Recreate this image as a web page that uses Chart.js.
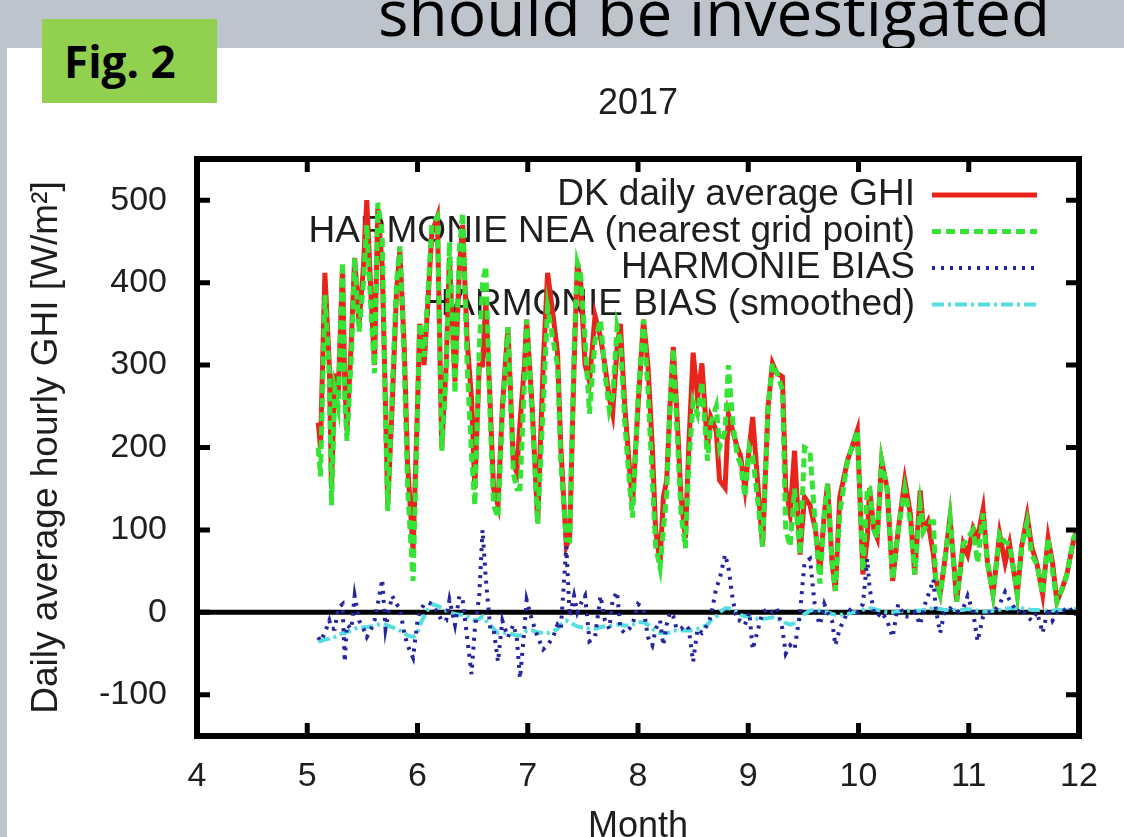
<!DOCTYPE html>
<html>
<head>
<meta charset="utf-8">
<script src="https://cdn.jsdelivr.net/npm/chart.js@4.4.1/dist/chart.umd.min.js"></script>
<style>
html,body{margin:0;padding:0;width:1124px;height:837px;overflow:hidden;background:#bec4cc;}
#headline{position:absolute;left:714px;top:-20px;transform:translateX(-50%);white-space:nowrap;font-family:"Open Sans",sans-serif;font-size:64px;line-height:1;color:#000;}
#panel{position:absolute;left:7px;top:48px;width:1117px;height:789px;background:#fff;}
#fig{position:absolute;left:42px;top:19px;width:175px;height:84px;background:#92d050;}
#figtext{position:absolute;left:22px;top:20px;font-family:"Open Sans",sans-serif;font-weight:700;font-size:44px;line-height:1;color:#000;white-space:nowrap;}
#c{position:absolute;left:0;top:0;}
</style>
</head>
<body>
<div id="headline">should be investigated</div>
<div id="panel"></div>
<div id="fig"><span id="figtext">Fig. 2</span></div>
<canvas id="c" width="1124" height="837"></canvas>
<script>
// ---------- data ----------
const chartTitle = '2017';
const xAxisTitle = 'Month';
const yAxisTitle = 'Daily average hourly GHI [W/m²]';
const seriesNames = ['DK daily average GHI', 'HARMONIE NEA (nearest grid point)', 'HARMONIE BIAS', 'HARMONIE BIAS (smoothed)'];
const xTickVals = [4, 5, 6, 7, 8, 9, 10, 11, 12];
const yTickVals = [-100, 0, 100, 200, 300, 400, 500];

const months = [5.10,5.12,5.16,5.20,5.22,5.25,5.28,5.32,5.34,5.36,5.40,5.43,5.47,5.51,5.54,5.58,5.61,5.64,5.68,5.71,5.73,5.77,5.81,5.84,5.88,5.91,5.96,6.00,6.02,6.06,6.10,6.13,6.18,6.22,6.26,6.29,6.34,6.38,6.41,6.45,6.49,6.52,6.56,6.59,6.62,6.66,6.69,6.73,6.77,6.82,6.87,6.90,6.93,6.97,6.99,7.04,7.09,7.14,7.18,7.23,7.27,7.30,7.35,7.38,7.42,7.45,7.48,7.52,7.56,7.61,7.66,7.70,7.74,7.77,7.81,7.84,7.88,7.92,7.95,8.00,8.05,8.09,8.13,8.16,8.20,8.23,8.26,8.29,8.32,8.35,8.39,8.43,8.46,8.50,8.54,8.58,8.63,8.66,8.71,8.74,8.79,8.82,8.86,8.90,8.93,8.97,9.01,9.04,9.09,9.13,9.18,9.22,9.26,9.31,9.34,9.38,9.42,9.47,9.51,9.56,9.61,9.65,9.69,9.72,9.76,9.79,9.83,9.90,9.94,9.99,10.01,10.04,10.08,10.10,10.14,10.17,10.21,10.26,10.31,10.36,10.42,10.47,10.51,10.56,10.59,10.63,10.68,10.70,10.74,10.78,10.83,10.87,10.89,10.95,10.99,11.04,11.08,11.13,11.17,11.22,11.28,11.33,11.37,11.44,11.48,11.53,11.57,11.62,11.67,11.72,11.76,11.80,11.85,11.89,11.95,11.98];

const dkGHI = [230,200,412,300,150,290,260,420,280,220,330,430,350,420,500,380,300,490,420,250,130,250,390,440,320,180,75,250,350,300,390,460,480,200,300,430,280,420,470,330,260,150,300,300,380,250,150,130,250,346,180,170,230,300,355,250,110,300,412,360,315,200,80,90,300,424,400,300,280,360,334,300,260,241,320,350,250,180,130,250,355,300,200,100,60,140,160,250,322,250,140,90,200,315,260,302,200,237,220,160,151,240,220,200,190,150,200,237,150,80,250,302,290,286,150,120,196,70,140,130,100,50,120,156,60,26,140,184,200,221,150,46,90,151,100,90,184,150,38,100,160,120,46,148,99,110,70,40,22,60,115,50,13,83,70,102,90,125,60,22,95,60,83,22,80,117,80,58,22,90,60,13,30,46,87,100];

const neaGHI = [200,165,385,290,130,270,250,425,260,208,310,430,340,400,470,360,290,497,460,230,123,270,400,444,300,150,38,240,351,310,400,470,480,196,290,449,265,440,485,300,190,130,320,400,420,230,130,115,240,346,168,150,150,280,355,240,107,250,370,330,300,180,88,87,320,424,410,330,241,330,355,290,245,260,347,330,230,160,115,260,355,270,160,80,54,100,144,250,320,230,120,78,180,255,240,280,184,230,250,200,220,300,230,190,180,140,200,190,130,80,250,302,290,270,100,80,150,70,200,196,100,35,120,156,60,26,120,184,200,221,150,50,151,151,100,90,184,150,40,100,150,110,46,130,99,110,110,40,22,60,115,50,13,83,90,100,60,120,60,22,95,85,83,22,80,110,70,58,22,90,50,13,30,46,90,95];

const biasGHI = [-30,-35,-25,-10,-20,-20,5,10,-60,-15,-20,20,-10,-20,-30,-20,-10,10,40,-20,-5,20,10,5,-25,-40,-55,-10,0,10,12,10,0,-10,-10,15,-15,20,15,-30,-75,-20,20,100,40,-20,-20,-60,-10,-30,-15,-30,-80,-20,15,-10,-30,-45,-40,-30,-15,-20,80,-5,20,0,10,20,-35,-30,20,-10,-20,15,25,-20,-25,-20,-15,10,5,-30,-40,-20,-10,-40,-15,0,-5,-20,-20,-15,-20,-60,-20,-25,-15,-5,30,40,70,55,15,-10,-10,-15,0,-45,-20,0,5,0,5,-20,-50,-40,-45,0,60,65,0,-15,10,0,-10,-40,-20,0,5,0,5,10,65,30,0,-5,0,-10,-30,10,-5,-5,0,-15,5,20,40,5,-25,0,5,0,0,5,20,0,-35,-5,0,0,10,25,15,0,5,-5,-10,0,-25,5,-10,0,5,0,5,-5];

const biasSmooth = [-35,-35,-33,-32,-30,-30,-28,-25,-25,-24,-22,-20,-18,-18,-18,-17,-16,-15,-14,-15,-16,-18,-20,-22,-25,-28,-30,-25,-15,-5,5,10,8,5,2,0,-2,-3,-3,-5,-8,-10,-8,-5,-10,-15,-20,-25,-25,-25,-27,-28,-28,-25,-22,-22,-24,-25,-25,-23,-20,-15,-10,-12,-15,-17,-18,-18,-20,-20,-18,-17,-17,-16,-15,-15,-16,-16,-15,-12,-12,-15,-20,-22,-25,-25,-25,-24,-22,-22,-22,-22,-22,-22,-20,-18,-15,-10,-5,0,5,5,3,0,-3,-5,-5,-7,-8,-8,-7,-6,-8,-10,-13,-15,-13,-8,-2,2,3,2,0,0,-2,-3,-3,-2,0,0,2,3,5,5,4,3,2,0,0,1,2,2,2,2,3,4,5,5,4,3,3,3,3,3,4,3,2,1,1,2,3,4,5,5,5,4,3,3,2,2,2,3,3,3,4,4];

// ---------- styling ----------
const FONT = '"Liberation Sans", Arial, sans-serif';
const TEXT = '#1e1e1e';
const pts = arr => months.map((m, i) => ({ x: m, y: arr[i] }));

const gnuplotDecor = {
  id: 'gnuplotDecor',
  beforeDatasetsDraw(chart) {
    const { ctx, chartArea: a, scales: { y } } = chart;
    ctx.save();
    const y0 = y.getPixelForValue(0);
    ctx.strokeStyle = '#000';
    ctx.lineWidth = 5;
    ctx.beginPath(); ctx.moveTo(a.left, y0); ctx.lineTo(a.right, y0); ctx.stroke();
    ctx.font = '37px ' + FONT;
    ctx.fillStyle = TEXT;
    ctx.textAlign = 'right';
    ctx.textBaseline = 'middle';
    chart.data.datasets.forEach((ds, i) => {
      const ry = a.top + 36 + i * 36.5;
      ctx.fillText(ds.label, a.right - 164, ry);
      ctx.save();
      ctx.strokeStyle = ds.borderColor;
      ctx.lineWidth = ds.borderWidth;
      ctx.setLineDash(ds.borderDash || []);
      ctx.beginPath(); ctx.moveTo(a.right - 147, ry); ctx.lineTo(a.right - 42, ry); ctx.stroke();
      ctx.restore();
    });
    ctx.restore();
  },
  afterDatasetsDraw(chart) {
    const { ctx, chartArea: a, scales: { x, y } } = chart;
    ctx.save();
    ctx.strokeStyle = '#000';
    ctx.lineWidth = 5;
    const tl = 13;
    ctx.beginPath();
    x.ticks.forEach(t => {
      const px = x.getPixelForValue(t.value);
      if (px <= a.left + 1 || px >= a.right - 1) return;
      ctx.moveTo(px, a.bottom); ctx.lineTo(px, a.bottom - tl);
      ctx.moveTo(px, a.top); ctx.lineTo(px, a.top + tl);
    });
    y.ticks.forEach(t => {
      const py = y.getPixelForValue(t.value);
      ctx.moveTo(a.left, py); ctx.lineTo(a.left + tl, py);
      ctx.moveTo(a.right, py); ctx.lineTo(a.right - tl, py);
    });
    ctx.stroke();
    ctx.lineWidth = 6;
    ctx.strokeRect(a.left, a.top, a.right - a.left, a.bottom - a.top);
    ctx.restore();
  },
  afterDraw(chart) {
    const { ctx, chartArea: a } = chart;
    ctx.save();
    ctx.font = '36px ' + FONT;
    ctx.fillStyle = TEXT;
    ctx.textAlign = 'center';
    ctx.textBaseline = 'middle';
    ctx.fillText(chartTitle, (a.left + a.right) / 2, 104);
    ctx.restore();
  }
};

new Chart(document.getElementById('c'), {
  type: 'line',
  data: {
    datasets: [
      { label: seriesNames[0], data: pts(dkGHI), borderColor: '#e8251c', borderWidth: 5, order: 4 },
      { label: seriesNames[1], data: pts(neaGHI), borderColor: '#36e436', borderWidth: 5, borderDash: [9, 5], order: 3 },
      { label: seriesNames[2], data: pts(biasGHI), borderColor: '#25259e', borderWidth: 4, borderDash: [3, 6], order: 1 },
      { label: seriesNames[3], data: pts(biasSmooth), borderColor: '#55dde0', borderWidth: 4, borderDash: [12, 4, 3, 4], order: 2 }
    ]
  },
  options: {
    responsive: false,
    animation: false,
    devicePixelRatio: 1,
    elements: { point: { radius: 0 }, line: { tension: 0, fill: false } },
    layout: { padding: { top: 159, right: 45, left: 0, bottom: 0 } },
    plugins: { legend: { display: false }, tooltip: { enabled: false }, title: { display: false } },
    scales: {
      x: {
        type: 'linear', min: 4, max: 12,
        afterFit: s => { s.height = 101; },
        afterBuildTicks: s => { s.ticks = xTickVals.map(v => ({ value: v })); },
        grid: { display: false, drawTicks: false },
        border: { display: false },
        ticks: { font: { family: FONT, size: 34 }, color: TEXT, padding: 20, maxRotation: 0, autoSkip: false },
        title: { display: true, text: xAxisTitle, font: { family: FONT, size: 36 }, color: TEXT, padding: { top: 0, bottom: -12 } }
      },
      y: {
        type: 'linear', min: -150, max: 550,
        afterFit: s => { s.width = 197; },
        afterBuildTicks: s => { s.ticks = yTickVals.map(v => ({ value: v })); },
        grid: { display: false, drawTicks: false },
        border: { display: false },
        ticks: { font: { family: FONT, size: 34 }, color: TEXT, padding: 30 },
        title: { display: true, text: yAxisTitle, font: { family: FONT, size: 37 }, color: TEXT, padding: { top: 25, bottom: 0 } }
      }
    }
  },
  plugins: [gnuplotDecor]
});
</script>
</body>
</html>
